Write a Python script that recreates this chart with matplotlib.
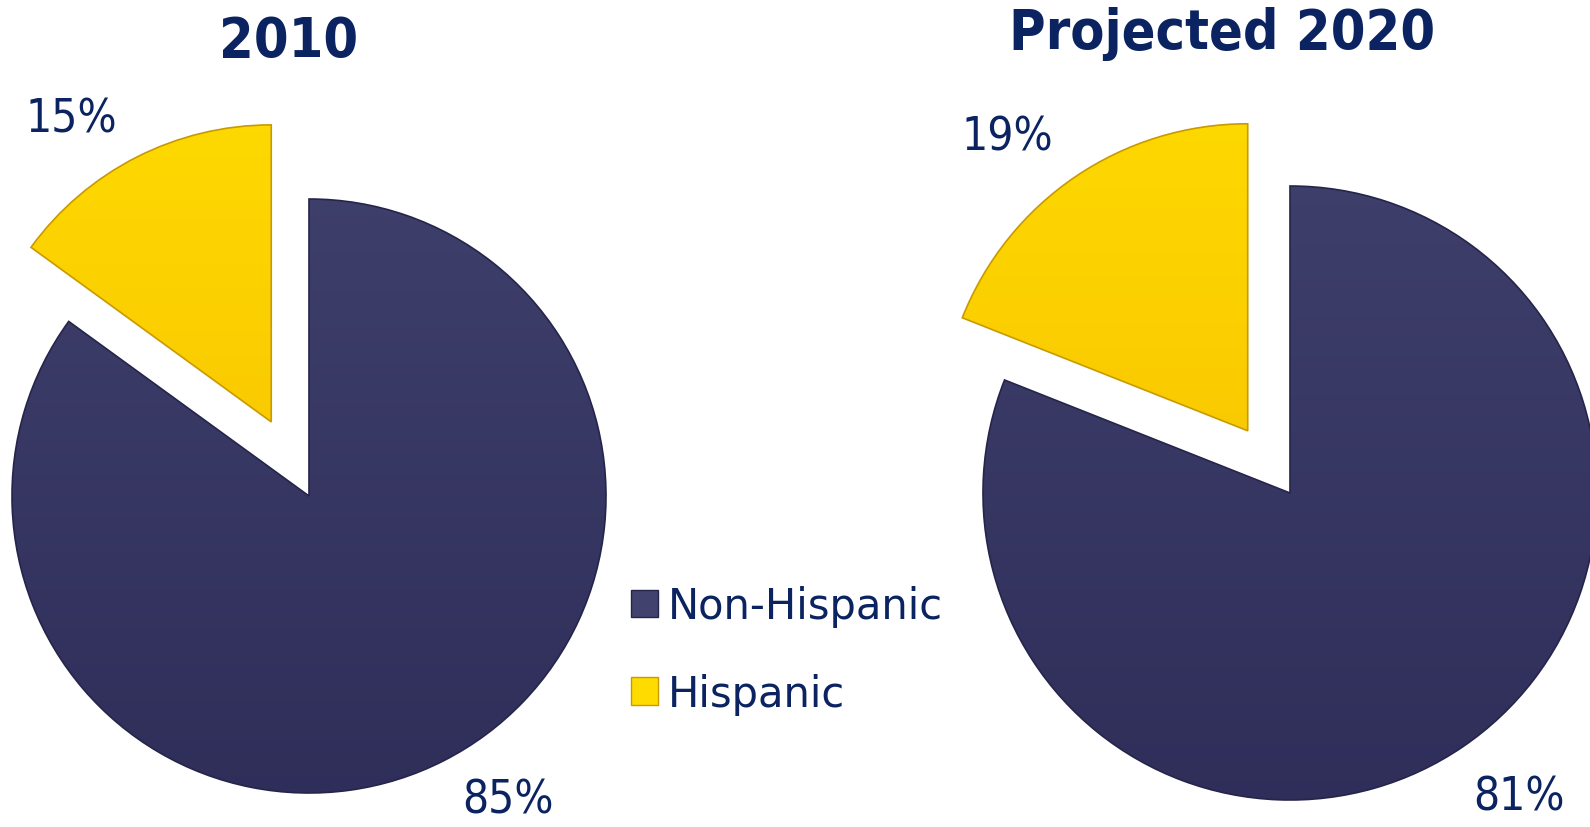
import matplotlib
matplotlib.use("Agg")
from matplotlib import pyplot as plt
from matplotlib.patches import Patch
import numpy as np

# data
titles = ["2010", "Projected 2020"]
categories = ["Hispanic", "Non-Hispanic"]
hispanic = [15, 19]
non_hispanic = [85, 81]

navy_top, navy_bot = "#42426f", "#2c2b56"
gold_top, gold_bot = "#ffdb00", "#f2b400"
text_col = "#0b2461"

W, H = 1590, 828
fig = plt.figure(figsize=(W / 100, H / 100), dpi=100)

# pie centres / radii in pixels (from top-left)
centres = [(309, 497, 297), (1290, 494, 307)]
explode_amt = [0.28, 0.245]
label_pos = [[(-0.80, 1.27), (0.67, -1.025)], [(-0.92, 1.16), (0.745, -0.99)]]
title_pos = [(289, 42), (1222, 34)]

span = 1.45


def gradient_fill(ax, wedge, top, bot):
    c1 = np.array(matplotlib.colors.to_rgb(top))
    c2 = np.array(matplotlib.colors.to_rgb(bot))
    t = np.linspace(0, 1, 256)[:, None]
    img = (c1 * (1 - t) + c2 * t)[:, None, :]
    im = ax.imshow(img, extent=(-span, span, -span, span), aspect="auto",
                   origin="upper", zorder=1)
    im.set_clip_path(wedge)
    wedge.set_facecolor("none")
    wedge.set_zorder(2)


for i in range(2):
    cx, cy, r = centres[i]
    w = 2 * span * r
    ax = fig.add_axes([(cx - w / 2) / W, (H - cy - w / 2) / H, w / W, w / H])
    vals = [hispanic[i], non_hispanic[i]]
    wedges, _ = ax.pie(vals, startangle=90, counterclock=True,
                       explode=[explode_amt[i], 0],
                       wedgeprops=dict(linewidth=1.2))
    gradient_fill(ax, wedges[0], gold_top, gold_bot)
    wedges[0].set_edgecolor("#c99a00")
    gradient_fill(ax, wedges[1], navy_top, navy_bot)
    wedges[1].set_edgecolor("#25244a")
    ax.set_xlim(-span, span)
    ax.set_ylim(-span, span)
    ax.set_aspect("equal")
    ax.axis("off")

    for (lx, ly), v in zip(label_pos[i], vals):
        ax.text(lx, ly, f"{v}%", ha="center", va="center", fontsize=33,
                color=text_col, fontstretch="condensed", clip_on=False)

    tx, ty = title_pos[i]
    fig.text(tx / W, 1 - ty / H, titles[i], ha="center", va="center",
             fontsize=40, fontweight="bold", color=text_col,
             fontstretch="condensed")

handles = [Patch(facecolor=navy_top, edgecolor="#25244a", label="Non-Hispanic"),
           Patch(facecolor=gold_top, edgecolor="#c99a00", label="Hispanic")]
leg = fig.legend(handles=handles, loc="center left",
                 bbox_to_anchor=(593 / W, 1 - 651 / H), frameon=False,
                 fontsize=30, labelspacing=1.1, handlelength=0.65,
                 handleheight=0.65, handletextpad=0.25)
for t in leg.get_texts():
    t.set_color(text_col)

fig.savefig("out.png", dpi=100)
